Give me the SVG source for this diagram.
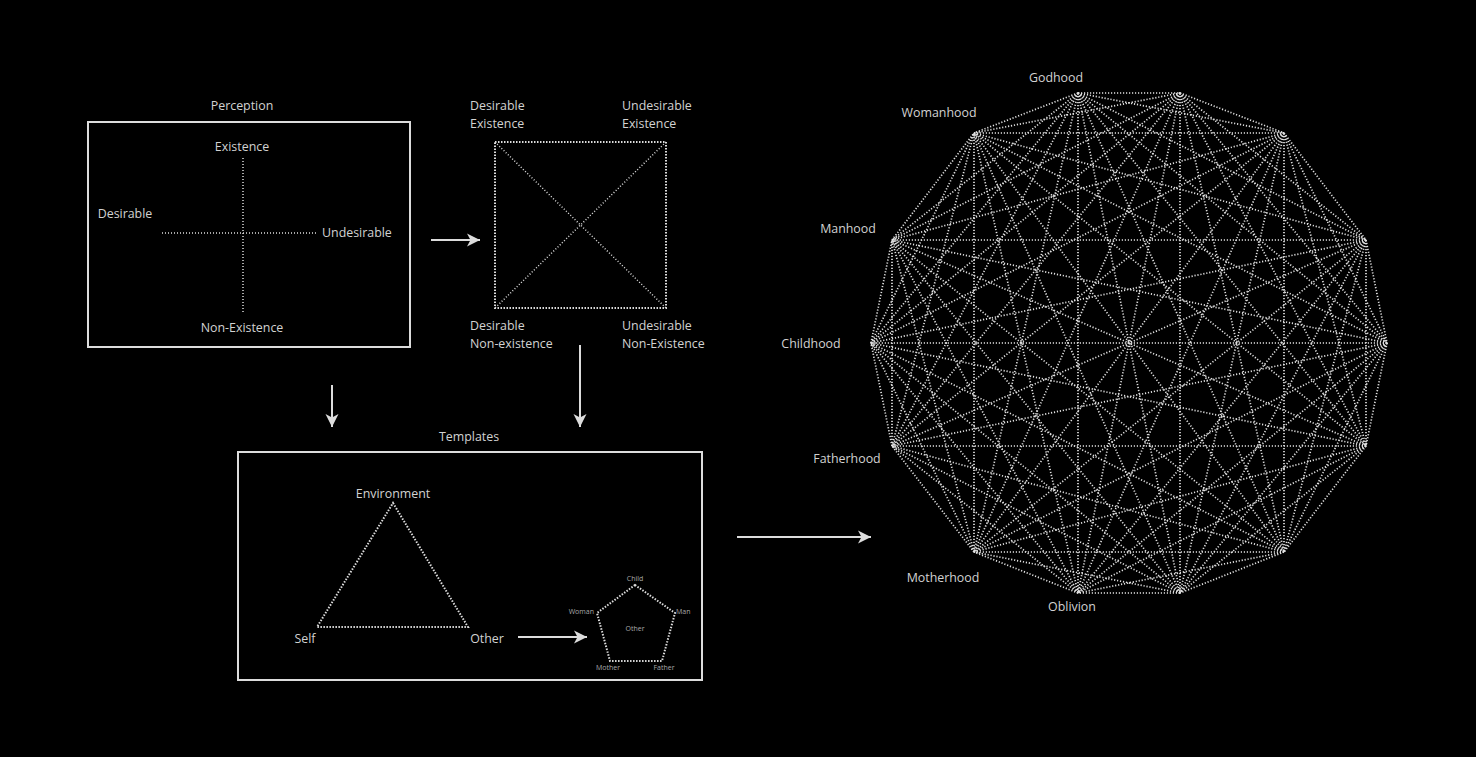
<svg xmlns="http://www.w3.org/2000/svg" width="1476" height="757" viewBox="0 0 1476 757">
<defs>
<style>
text{font-family:"Open Sans","Noto Sans","DejaVu Sans",sans-serif;font-size:12.4px;fill:#d2d2d2}
.m{text-anchor:middle}
.s{text-anchor:start}
.e{text-anchor:end}
.tiny{font-size:7px;fill:#a8a8a8}
.box{fill:none;stroke:#dcdcdc;stroke-width:2}
.dot{fill:none;stroke:#dcdcdc;stroke-width:1.5;stroke-dasharray:1 2}
.dotb{fill:none;stroke:#dcdcdc;stroke-width:2;stroke-dasharray:1.5 1.5}
.arr{fill:none;stroke:#dcdcdc;stroke-width:2}
.k line{stroke:#e0e0e0;stroke-width:1.7;stroke-dasharray:1.2 1.8}
</style>
<marker id="ah" markerUnits="userSpaceOnUse" markerWidth="14" markerHeight="14" refX="13" refY="7" orient="auto">
<path d="M0,0.5 L13,7 L0,13.5 L3.5,7 Z" fill="#dcdcdc"/>
</marker>
</defs>
<rect x="0" y="0" width="1476" height="757" fill="#000"/>

<g id="perception">
<text class="m" x="242" y="110">Perception</text>
<rect class="box" x="88" y="122" width="322" height="225"/>
<line class="dot" x1="243" y1="158" x2="243" y2="313"/>
<line class="dot" x1="162" y1="233" x2="317" y2="233"/>
<text class="m" x="242" y="151">Existence</text>
<text class="m" x="125" y="218">Desirable</text>
<text class="s" x="322" y="237">Undesirable</text>
<text class="m" x="242" y="332">Non-Existence</text>
</g>

<g id="square">
<rect class="dotb" x="495" y="142" width="171" height="166"/>
<line class="dot" x1="495" y1="142" x2="666" y2="308"/>
<line class="dot" x1="666" y1="142" x2="495" y2="308"/>
<text class="s" x="470" y="110">Desirable</text>
<text class="s" x="470" y="128">Existence</text>
<text class="s" x="622" y="110">Undesirable</text>
<text class="s" x="622" y="128">Existence</text>
<text class="s" x="470" y="330">Desirable</text>
<text class="s" x="470" y="348">Non-existence</text>
<text class="s" x="622" y="330">Undesirable</text>
<text class="s" x="622" y="348">Non-Existence</text>
</g>

<g id="templates">
<text class="m" x="469" y="441">Templates</text>
<rect class="box" x="238" y="452" width="464" height="228"/>
<polygon class="dotb" points="393,503 468,627 317,627"/>
<text class="m" x="393" y="498">Environment</text>
<text class="m" x="305" y="643">Self</text>
<text class="m" x="487" y="643">Other</text>
</g>

<g id="pentagon">
<polygon class="dotb" points="635,585 675,613 662,661 610,661 597,613"/>
<text class="m tiny" x="635" y="580.5">Child</text>
<text class="e tiny" x="594" y="613.5">Woman</text>
<text class="s tiny" x="676" y="613.5">Man</text>
<text class="m tiny" x="635" y="630.5">Other</text>
<text class="m tiny" x="608" y="669.5">Mother</text>
<text class="m tiny" x="664" y="669.5">Father</text>
</g>

<g id="arrows">
<line class="arr" x1="431" y1="240" x2="480" y2="240" marker-end="url(#ah)"/>
<line class="arr" x1="332" y1="385" x2="332" y2="427" marker-end="url(#ah)"/>
<line class="arr" x1="580" y1="345" x2="580" y2="427" marker-end="url(#ah)"/>
<line class="arr" x1="737" y1="537" x2="871" y2="537" marker-end="url(#ah)"/>
<line class="arr" x1="518" y1="637" x2="587" y2="637" marker-end="url(#ah)"/>
</g>

<g id="graph-edges" class="k">
<line x1="1078" y1="93" x2="1180" y2="93"/>
<line x1="1078" y1="93" x2="1284" y2="133"/>
<line x1="1078" y1="93" x2="1366" y2="240"/>
<line x1="1078" y1="93" x2="1387" y2="343"/>
<line x1="1078" y1="93" x2="1366" y2="446"/>
<line x1="1078" y1="93" x2="1284" y2="552"/>
<line x1="1078" y1="93" x2="1180" y2="593"/>
<line x1="1078" y1="93" x2="1078" y2="593"/>
<line x1="1078" y1="93" x2="974" y2="552"/>
<line x1="1078" y1="93" x2="892" y2="446"/>
<line x1="1078" y1="93" x2="871" y2="343"/>
<line x1="1078" y1="93" x2="892" y2="240"/>
<line x1="1078" y1="93" x2="974" y2="133"/>
<line x1="1180" y1="93" x2="1284" y2="133"/>
<line x1="1180" y1="93" x2="1366" y2="240"/>
<line x1="1180" y1="93" x2="1387" y2="343"/>
<line x1="1180" y1="93" x2="1366" y2="446"/>
<line x1="1180" y1="93" x2="1284" y2="552"/>
<line x1="1180" y1="93" x2="1180" y2="593"/>
<line x1="1180" y1="93" x2="1078" y2="593"/>
<line x1="1180" y1="93" x2="974" y2="552"/>
<line x1="1180" y1="93" x2="892" y2="446"/>
<line x1="1180" y1="93" x2="871" y2="343"/>
<line x1="1180" y1="93" x2="892" y2="240"/>
<line x1="1180" y1="93" x2="974" y2="133"/>
<line x1="1284" y1="133" x2="1366" y2="240"/>
<line x1="1284" y1="133" x2="1387" y2="343"/>
<line x1="1284" y1="133" x2="1366" y2="446"/>
<line x1="1284" y1="133" x2="1284" y2="552"/>
<line x1="1284" y1="133" x2="1180" y2="593"/>
<line x1="1284" y1="133" x2="1078" y2="593"/>
<line x1="1284" y1="133" x2="974" y2="552"/>
<line x1="1284" y1="133" x2="892" y2="446"/>
<line x1="1284" y1="133" x2="871" y2="343"/>
<line x1="1284" y1="133" x2="892" y2="240"/>
<line x1="1284" y1="133" x2="974" y2="133"/>
<line x1="1366" y1="240" x2="1387" y2="343"/>
<line x1="1366" y1="240" x2="1366" y2="446"/>
<line x1="1366" y1="240" x2="1284" y2="552"/>
<line x1="1366" y1="240" x2="1180" y2="593"/>
<line x1="1366" y1="240" x2="1078" y2="593"/>
<line x1="1366" y1="240" x2="974" y2="552"/>
<line x1="1366" y1="240" x2="892" y2="446"/>
<line x1="1366" y1="240" x2="871" y2="343"/>
<line x1="1366" y1="240" x2="892" y2="240"/>
<line x1="1366" y1="240" x2="974" y2="133"/>
<line x1="1387" y1="343" x2="1366" y2="446"/>
<line x1="1387" y1="343" x2="1284" y2="552"/>
<line x1="1387" y1="343" x2="1180" y2="593"/>
<line x1="1387" y1="343" x2="1078" y2="593"/>
<line x1="1387" y1="343" x2="974" y2="552"/>
<line x1="1387" y1="343" x2="892" y2="446"/>
<line x1="1387" y1="343" x2="871" y2="343"/>
<line x1="1387" y1="343" x2="892" y2="240"/>
<line x1="1387" y1="343" x2="974" y2="133"/>
<line x1="1366" y1="446" x2="1284" y2="552"/>
<line x1="1366" y1="446" x2="1180" y2="593"/>
<line x1="1366" y1="446" x2="1078" y2="593"/>
<line x1="1366" y1="446" x2="974" y2="552"/>
<line x1="1366" y1="446" x2="892" y2="446"/>
<line x1="1366" y1="446" x2="871" y2="343"/>
<line x1="1366" y1="446" x2="892" y2="240"/>
<line x1="1366" y1="446" x2="974" y2="133"/>
<line x1="1284" y1="552" x2="1180" y2="593"/>
<line x1="1284" y1="552" x2="1078" y2="593"/>
<line x1="1284" y1="552" x2="974" y2="552"/>
<line x1="1284" y1="552" x2="892" y2="446"/>
<line x1="1284" y1="552" x2="871" y2="343"/>
<line x1="1284" y1="552" x2="892" y2="240"/>
<line x1="1284" y1="552" x2="974" y2="133"/>
<line x1="1180" y1="593" x2="1078" y2="593"/>
<line x1="1180" y1="593" x2="974" y2="552"/>
<line x1="1180" y1="593" x2="892" y2="446"/>
<line x1="1180" y1="593" x2="871" y2="343"/>
<line x1="1180" y1="593" x2="892" y2="240"/>
<line x1="1180" y1="593" x2="974" y2="133"/>
<line x1="1078" y1="593" x2="974" y2="552"/>
<line x1="1078" y1="593" x2="892" y2="446"/>
<line x1="1078" y1="593" x2="871" y2="343"/>
<line x1="1078" y1="593" x2="892" y2="240"/>
<line x1="1078" y1="593" x2="974" y2="133"/>
<line x1="974" y1="552" x2="892" y2="446"/>
<line x1="974" y1="552" x2="871" y2="343"/>
<line x1="974" y1="552" x2="892" y2="240"/>
<line x1="974" y1="552" x2="974" y2="133"/>
<line x1="892" y1="446" x2="871" y2="343"/>
<line x1="892" y1="446" x2="892" y2="240"/>
<line x1="892" y1="446" x2="974" y2="133"/>
<line x1="871" y1="343" x2="892" y2="240"/>
<line x1="871" y1="343" x2="974" y2="133"/>
<line x1="892" y1="240" x2="974" y2="133"/>
</g>

<g id="godhood"><text class="m" x="1056" y="82">Godhood</text></g>
<g id="womanhood"><text class="m" x="939" y="117">Womanhood</text></g>
<g id="manhood"><text class="m" x="848" y="233">Manhood</text></g>
<g id="childhood"><text class="m" x="811" y="348">Childhood</text></g>
<g id="fatherhood"><text class="m" x="847" y="463">Fatherhood</text></g>
<g id="motherhood"><text class="m" x="943" y="582">Motherhood</text></g>
<g id="oblivion"><text class="m" x="1072" y="611">Oblivion</text></g>
</svg>
